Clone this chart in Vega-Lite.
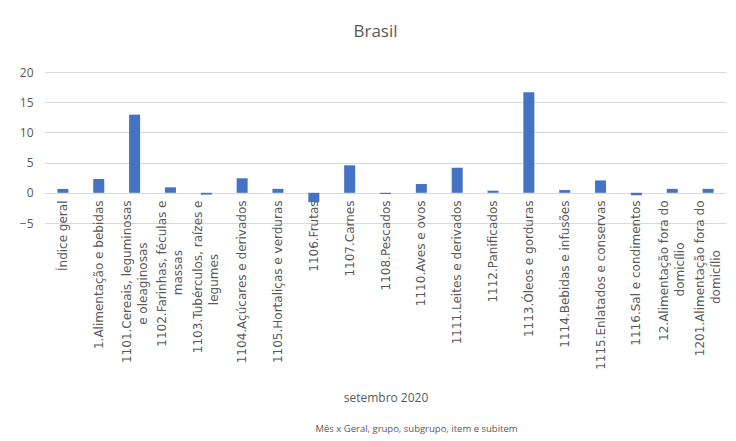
{
  "$schema": "https://vega.github.io/schema/vega-lite/v6.json",
  "width": 681,
  "height": 151,
  "autosize": {"type": "none"},
  "padding": {"left": 45, "top": 72, "right": 10, "bottom": 218},
  "background": "white",
  "title": {"text": "Brasil", "fontSize": 17, "font": "Open Sans", "fontWeight": "normal", "color": "#595959", "anchor": "middle", "offset": 25, "dx": -10},
  "data": {"values": [
    {"categoria": "Índice geral", "variacao": 0.64},
    {"categoria": "1.Alimentação e bebidas", "variacao": 2.28},
    {"categoria": "1101.Cereais, leguminosas\ne oleaginosas", "variacao": 12.94},
    {"categoria": "1102.Farinhas, féculas e\nmassas", "variacao": 0.9},
    {"categoria": "1103.Tubérculos, raízes e\nlegumes", "variacao": -0.3},
    {"categoria": "1104.Açúcares e derivados", "variacao": 2.4},
    {"categoria": "1105.Hortaliças e verduras", "variacao": 0.65},
    {"categoria": "1106.Frutas", "variacao": -1.55},
    {"categoria": "1107.Carnes", "variacao": 4.55},
    {"categoria": "1108.Pescados", "variacao": -0.2},
    {"categoria": "1110.Aves e ovos", "variacao": 1.45},
    {"categoria": "1111.Leites e derivados", "variacao": 4.15},
    {"categoria": "1112.Panificados", "variacao": 0.35},
    {"categoria": "1113.Óleos e gorduras", "variacao": 16.65},
    {"categoria": "1114.Bebidas e infusões", "variacao": 0.45},
    {"categoria": "1115.Enlatados e conservas", "variacao": 2.05},
    {"categoria": "1116.Sal e condimentos", "variacao": -0.4},
    {"categoria": "12.Alimentação fora do\ndomicílio", "variacao": 0.65},
    {"categoria": "1201.Alimentação fora do\ndomicílio", "variacao": 0.65}
  ]},
  "encoding": {
    "y": {
      "field": "variacao", "type": "quantitative",
      "scale": {"domain": [-5, 20]},
      "axis": {
        "values": [-5, 0, 5, 10, 15, 20], "title": null,
        "domain": false, "ticks": false, "labelPadding": 12,
        "labelFont": "Open Sans", "labelFontSize": 12, "labelColor": "#595959",
        "gridColor": "#d9d9d9"
      }
    }
  },
  "layer": [
    {
      "mark": {"type": "bar", "size": 11, "color": "#4472C4"},
      "encoding": {
        "x": {
          "field": "categoria", "type": "nominal", "sort": null,
          "scale": {"paddingInner": 0, "paddingOuter": 0},
          "axis": {
            "offset": -30,
            "labelAngle": -90,
            "labelExpr": "indexof(datum.label, '\\n') < 0 ? datum.label : [split(datum.label, '\\n')[0], pad(split(datum.label, '\\n')[1], length(split(datum.label, '\\n')[1]) + (indexof(datum.label, '1101.') == 0 ? 11 : indexof(datum.label, '1102.') == 0 ? 13 : indexof(datum.label, '1103.') == 0 ? 14 : indexof(datum.label, '1201.') == 0 ? 13 : 11), '\u00a0', 'right') + '\u200b']",
            "labelFont": "DejaVu Sans", "labelFontSize": 12, "labelColor": "#595959",
            "labelLineHeight": 16, "labelLimit": 400, "labelPadding": 7,
            "labelOffset": {"condition": {"test": "indexof(datum.value, '\\n') >= 0", "value": -8}, "value": 0},
            "ticks": false, "domainColor": "#d9d9d9",
            "title": "setembro 2020",
            "titleFont": "Open Sans", "titleFontSize": 12, "titleFontWeight": "normal", "titleColor": "#595959",
            "titleBaseline": "middle", "titleY": 204, "titleX": 340.5, "titleAlign": "center"
          }
        }
      }
    },
    {
      "mark": {"type": "bar", "size": 11, "opacity": 0},
      "encoding": {
        "x": {
          "field": "categoria", "type": "nominal", "sort": null,
          "axis": {
            "orient": "top", "labels": false, "ticks": false, "domain": false, "grid": false,
            "title": "Mês x Geral, grupo, subgrupo, item e subitem",
            "titleFont": "Open Sans", "titleFontSize": 9.5, "titleFontWeight": "normal", "titleColor": "#595959",
            "titleBaseline": "middle", "titleY": 356, "titleX": 371, "titleAlign": "center"
          }
        }
      }
    }
  ],
  "resolve": {"axis": {"x": "independent"}},
  "config": {"view": {"stroke": null}}
}
